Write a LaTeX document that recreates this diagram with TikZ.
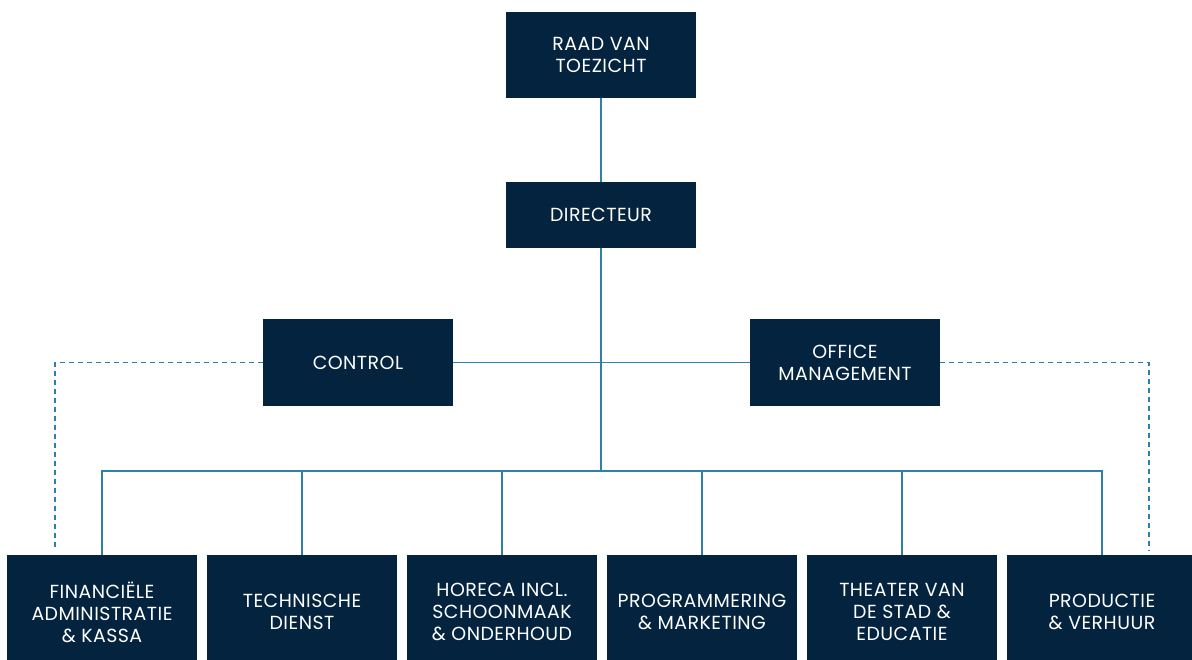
\documentclass[tikz,border=0pt]{standalone}
\usepackage{fontspec}
\setmainfont[LetterSpace=2.5]{Poppins}
\definecolor{navy}{HTML}{03233F}
\definecolor{lijn}{HTML}{2E80A8}
\begin{document}
\begin{tikzpicture}[x=1bp,y=-1bp,
    box/.style={fill=navy, text=white, minimum width=190bp, inner sep=0pt,
      align=center, font=\fontsize{19}{22}\selectfont},
    verbinding/.style={lijn, line width=1.4bp},
    stippel/.style={lijn, line width=1.2bp, dash pattern=on 5bp off 4bp}]
  \useasboundingbox (0,0) rectangle (1192,660);

  % Cajas superiores
  \node[box, minimum height=86bp] (raad) at (601,55) {RAAD VAN\\TOEZICHT};
  \node[box, minimum height=66bp] (dir) at (601,215) {DIRECTEUR};
  \node[box, minimum height=87bp] (control) at (358,362.5) {CONTROL};
  \node[box, minimum height=87bp] (office) at (845,362.5) {OFFICE\\MANAGEMENT};

  % Cajas inferiores
  \node[box, minimum height=114bp] (fin) at (102,612) {FINANCIËLE\\ADMINISTRATIE\\\& KASSA};
  \node[box, minimum height=114bp] (tech) at (302,612) {TECHNISCHE\\DIENST};
  \node[box, minimum height=114bp] (horeca) at (502,612) {HORECA INCL.\\SCHOONMAAK\\\& ONDERHOUD};
  \node[box, minimum height=114bp] (prog) at (702,612) {PROGRAMMERING\\\& MARKETING};
  \node[box, minimum height=114bp] (theater) at (902,612) {THEATER VAN\\DE STAD \&\\EDUCATIE};
  \node[box, minimum height=114bp] (prod) at (1102,612) {PRODUCTIE\\\& VERHUUR};

  % Lineas
  \coordinate (bus) at (601,471);
  \draw[verbinding] (raad) -- (dir);
  \draw[verbinding] (dir) -- (bus);
  \draw[verbinding] (control) -- (office);
  \draw[verbinding] (fin.north) |- (bus) -| (prod.north);
  \foreach \n in {tech,horeca,prog,theater}
    \draw[verbinding] (\n.north) -- (\n.north |- bus);

  % Lineas punteadas
  \coordinate (links) at (55,550);
  \coordinate (rechts) at (1149,550);
  \draw[stippel] (control.west) -| (links);
  \draw[stippel] (office.east) -| (rechts);

\end{tikzpicture}
\end{document}
